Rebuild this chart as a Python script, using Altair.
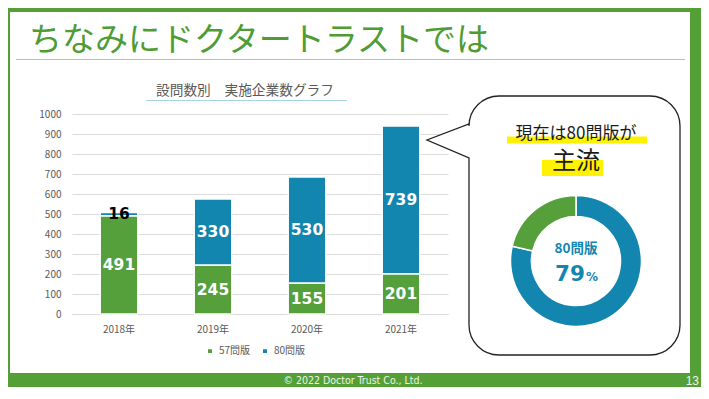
import altair as alt
import pandas as pd

# ---------------- data ----------------
years = ["2018年", "2019年", "2020年", "2021年"]
series = ["57問版", "80問版"]
v57 = [491, 245, 155, 201]
v80 = [16, 330, 530, 739]
donut_labels = ["80問版", "57問版"]
donut_values = [739, 201]
y_ticks = [0, 100, 200, 300, 400, 500, 600, 700, 800, 900, 1000]

GREEN = "#55a03a"
BLUE = "#1386b0"
FRAME = "#54a036"
GRAY = "#595959"
JP = "Noto Sans CJK JP"

rows = []
for i, yr in enumerate(years):
    rows.append({"year": yr, "series": series[0], "value": v57[i], "ord": 0})
    rows.append({"year": yr, "series": series[1], "value": v80[i], "ord": 1})
bars_df = pd.DataFrame(rows)
donut_df = pd.DataFrame({"series": donut_labels, "value": donut_values, "ord": [0, 1]})
one = pd.DataFrame({"k": [0]})

# page pixel -> plot coordinates
OX, OY = 72, 114


def px(x):
    return x - OX


def py(y):
    return y - OY


def rect(x0, y0, x1, y1, color):
    return alt.Chart(one).mark_rect(color=color).encode(
        x=alt.value(px(x0)), x2=alt.value(px(x1)),
        y=alt.value(py(y0)), y2=alt.value(py(y1)))


def text(s, x, y, size, color, weight="normal", font=JP, align="center", baseline="middle"):
    return alt.Chart(one).mark_text(
        text=s, fontSize=size, color=color, fontWeight=weight, font=font,
        align=align, baseline=baseline).encode(x=alt.value(px(x)), y=alt.value(py(y)))


def hrule(x0, x1, y, color, w=1):
    return alt.Chart(one).mark_rule(color=color, strokeWidth=w).encode(
        x=alt.value(px(x0)), x2=alt.value(px(x1)), y=alt.value(py(y)))


# frame
frame = [
    rect(0, 0, 720, 12, FRAME),
    rect(0, 0, 10, 410, FRAME),
    rect(690, 0, 720, 410, FRAME),
    rect(0, 373, 720, 410, FRAME),
]

title = text("ちなみにドクタートラストでは", 29, 41, 33, "#4f9c35", align="left")
title_rule = hrule(16, 685, 59.5, "#a8cf95", 1)
chart_title = text("設問数別\u3000実施企業数グラフ", 245, 91, 13.7, GRAY)
chart_title_rule = hrule(146, 347, 100.5, "#a9d5e3", 1.2)

color_scale = alt.Scale(domain=series, range=[GREEN, BLUE])

x_axis = alt.Axis(labelAngle=0, ticks=False, tickSize=0, labelPadding=10,
                  domainColor="#d9d9d9", labelColor=GRAY, labelFontSize=10,
                  labelFont=JP, grid=False, title=None)
y_axis = alt.Axis(values=y_ticks, format="d", domain=False, ticks=False, tickSize=0,
                  labelPadding=11, grid=True, gridColor="#dcdcdc", labelColor=GRAY,
                  labelFontSize=10, labelFont=JP, labelOverlap=False,
                  labelFlush=False, title=None)
y_scale = alt.Scale(domain=[0, 1000], nice=False)
x_scale = alt.Scale(paddingInner=0.6, paddingOuter=0.3)

base = alt.Chart(bars_df)
bars = base.mark_bar(stroke="white", strokeWidth=1.5).encode(
    x=alt.X("year:N", sort=years, scale=x_scale, axis=x_axis),
    y=alt.Y("value:Q", stack="zero", scale=y_scale, axis=y_axis),
    color=alt.Color("series:N", scale=color_scale, sort=series, title=None,
                    legend=alt.Legend(orient="none", legendX=133, legendY=232,
                                      direction="horizontal", symbolType="square",
                                      symbolSize=30, labelFontSize=10, labelColor=GRAY,
                                      labelFont=JP, columnPadding=8, labelOffset=4)),
    order=alt.Order("ord:Q"),
)

labels = base.transform_stack(
    stack="value", groupby=["year"], as_=["v0", "v1"], sort=[alt.SortField("ord")]
).transform_calculate(mid="(datum.v0 + datum.v1) / 2").mark_text(
    font="DejaVu Sans", fontWeight="bold", fontSize=15.5, baseline="middle"
).encode(
    x=alt.X("year:N", sort=years, scale=x_scale, axis=x_axis),
    y=alt.Y("mid:Q", scale=y_scale, axis=y_axis),
    text=alt.Text("value:Q"),
    color=alt.condition("datum.value < 50", alt.value("black"), alt.value("white")),
)

# speech bubble outline (page pixels)
L, T, R, B, r = 469, 96, 680, 355, 30
k = 0.5523 * r
bubble_path = " ".join([
    f"M{L},158", f"L{L},{B - r}",
    f"C{L},{B - r + k} {L + r - k},{B} {L + r},{B}",
    f"L{R - r},{B}",
    f"C{R - r + k},{B} {R},{B - r + k} {R},{B - r}",
    f"L{R},{T + r}",
    f"C{R},{T + r - k} {R - r + k},{T} {R - r},{T}",
    f"L{L + r},{T}",
    f"C{L + r - k},{T} {L},{T + r - k} {L},{T + r}",
    f"L{L},124", "L427,140", "Z",
])
bubble = alt.Chart(one).mark_point(
    shape=bubble_path, size=4, fill="white", stroke="#222222", strokeWidth=1.3,
    opacity=1, fillOpacity=1, strokeOpacity=1
).encode(x=alt.value(px(0)), y=alt.value(py(0)))

hl1 = rect(507, 136.5, 647, 143.5, "#fff200")
hl2 = rect(542, 160, 603, 176, "#fff200")
btxt1 = text("現在は80問版が", 576, 133.5, 17, "#1a1a1a")
btxt2 = text("主流", 576, 162, 24, "#1a1a1a")

donut = alt.Chart(donut_df).mark_arc(
    innerRadius=44.5, outerRadius=65.5, stroke="white", strokeWidth=1.5
).encode(
    theta=alt.Theta("value:Q", stack=True),
    color=alt.Color("series:N", scale=color_scale, sort=series),
    order=alt.Order("ord:Q"),
    x=alt.value(px(576)), y=alt.value(py(261)),
)
d1 = text("80問版", 576, 248.5, 13.5, BLUE, weight="bold")
d2 = text("79", 585, 281, 21.5, BLUE, weight="bold", font="DejaVu Sans",
          align="right", baseline="alphabetic")
d3 = text("%", 586, 281, 12, BLUE, weight="bold", font="DejaVu Sans",
          align="left", baseline="alphabetic")

footer = text("© 2022 Doctor Trust Co., Ltd.", 353, 380.5, 10.5, "#eef5ea",
              font="Liberation Sans Narrow, DejaVu Sans Condensed, Liberation Sans")
page = text("13", 699, 380.5, 12, "#eef5ea", font="Liberation Sans Narrow, Liberation Sans",
            align="right")

chart = alt.layer(
    *frame, title, title_rule, chart_title, chart_title_rule,
    bars, labels, bubble, hl1, hl2, btxt1, btxt2, donut, d1, d2, d3, footer, page
).properties(
    width=376, height=200,
    padding={"left": 64, "top": 106, "right": 253, "bottom": 73},
    autosize=alt.AutoSizeParams(type="none"),
).configure(background="white").configure_view(stroke=None)

chart.save("out.html", embed_options={"renderer": "svg", "actions": False})
